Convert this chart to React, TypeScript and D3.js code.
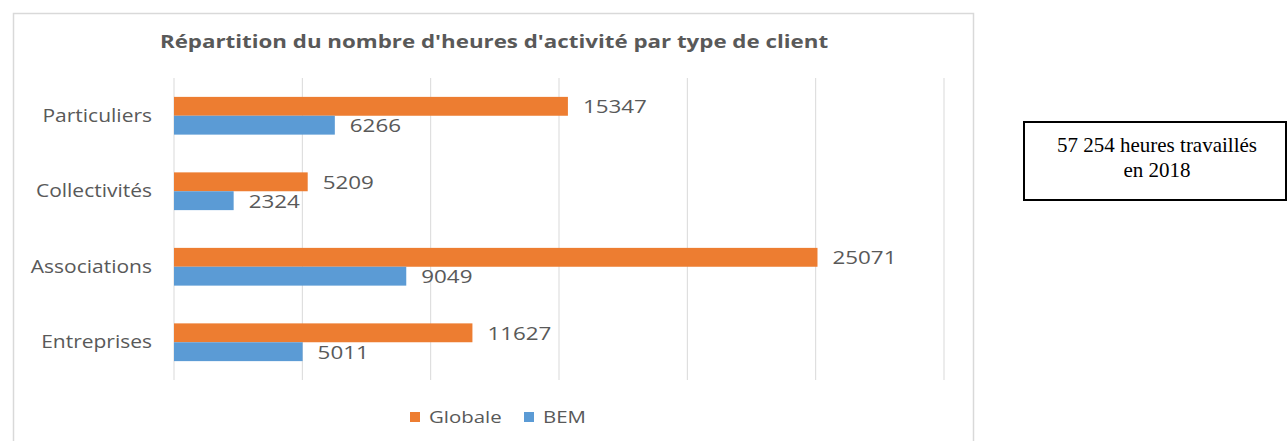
import React, { useEffect, useRef } from 'react';
import * as d3 from 'd3';

const categories = ['Particuliers', 'Collectivités', 'Associations', 'Entreprises'];
const seriesNames = ['Globale', 'BEM'];
const globale = [15347, 5209, 25071, 11627];
const bem = [6266, 2324, 9049, 5011];
const xTicks = [0, 5000, 10000, 15000, 20000, 25000, 30000];

const colors = ['#ED7D31', '#5B9BD5'];
const textColor = '#595959';
const font = '"Open Sans", sans-serif';
const sx = 1.2; // horizontal stretch of the chart texts

function Chart() {
  const svgRef = useRef(null);

  useEffect(() => {
    const svg = d3.select(svgRef.current);
    svg.selectAll('*').remove();

    // chart frame
    svg
      .append('rect')
      .attr('x', 13.5)
      .attr('y', 13.5)
      .attr('width', 960)
      .attr('height', 440)
      .attr('fill', '#fff')
      .attr('stroke', '#d9d9d9')
      .attr('stroke-width', 1.5);

    svg
      .append('text')
      .attr('transform', `translate(494,48) scale(1.24,1)`)
      .attr('text-anchor', 'middle')
      .attr('font-family', font)
      .attr('font-weight', 'bold')
      .attr('font-size', 18)
      .attr('fill', textColor)
      .text("Répartition du nombre d'heures d'activité par type de client");

    const x = d3.scaleLinear().domain([0, 30000]).range([174, 944]);
    const y = d3.scaleBand().domain(categories).range([78, 380]).paddingInner(0.5).paddingOuter(0.25);
    const ySub = d3.scaleBand().domain(seriesNames).range([0, y.bandwidth()]);

    svg
      .append('g')
      .selectAll('line')
      .data(xTicks)
      .join('line')
      .attr('x1', (d) => x(d))
      .attr('x2', (d) => x(d))
      .attr('y1', 78)
      .attr('y2', 380)
      .attr('stroke', '#d9d9d9')
      .attr('stroke-width', 1);

    const series = [globale, bem];
    series.forEach((vals, si) => {
      const g = svg.append('g');
      g.selectAll('rect')
        .data(vals)
        .join('rect')
        .attr('x', x(0))
        .attr('y', (d, i) => y(categories[i]) + ySub(seriesNames[si]))
        .attr('width', (d) => x(d) - x(0))
        .attr('height', ySub.bandwidth())
        .attr('fill', colors[si]);
      g.selectAll('text')
        .data(vals)
        .join('text')
        .attr(
          'transform',
          (d, i) =>
            `translate(${x(d) + 15},${y(categories[i]) + ySub(seriesNames[si]) + ySub.bandwidth() / 2 + 7}) scale(1.28,1)`
        )
        .attr('font-family', font)
        .attr('font-size', 17.5)
        .attr('fill', textColor)
        .text((d) => d);
    });

    svg
      .append('g')
      .selectAll('text')
      .data(categories)
      .join('text')
      .attr('transform', (d) => `translate(152,${y(d) + y.bandwidth() / 2 + 6}) scale(${sx},1)`)
      .attr('text-anchor', 'end')
      .attr('font-family', font)
      .attr('font-size', 17.5)
      .attr('fill', textColor)
      .text((d) => d);

    // legend
    const legendX = [410, 524];
    const legend = svg.append('g');
    seriesNames.forEach((name, i) => {
      legend
        .append('rect')
        .attr('x', legendX[i])
        .attr('y', 412)
        .attr('width', 10)
        .attr('height', 10)
        .attr('fill', colors[i]);
      legend
        .append('text')
        .attr('transform', `translate(${legendX[i] + 19},423) scale(${sx},1)`)
        .attr('font-family', font)
        .attr('font-size', 17)
        .attr('fill', textColor)
        .text(name);
    });

    // text box on the right
    svg
      .append('rect')
      .attr('x', 1024)
      .attr('y', 122)
      .attr('width', 262)
      .attr('height', 78)
      .attr('fill', '#fff')
      .attr('stroke', '#000')
      .attr('stroke-width', 2);
    const boxLines = ['57 254 heures travaillés', 'en 2018'];
    svg
      .append('g')
      .selectAll('text')
      .data(boxLines)
      .join('text')
      .attr('x', 1157)
      .attr('y', (d, i) => 152 + i * 25)
      .attr('text-anchor', 'middle')
      .attr('font-family', '"Liberation Serif", "Times New Roman", serif')
      .attr('font-size', 21)
      .attr('fill', '#000')
      .text((d) => d);
  }, []);

  return (
    <svg
      ref={svgRef}
      width={1288}
      height={441}
      style={{ position: 'absolute', left: 0, top: 0, background: '#fff' }}
      xmlns="http://www.w3.org/2000/svg"
    />
  );
}

export default function App() {
  return <Chart />;
}
